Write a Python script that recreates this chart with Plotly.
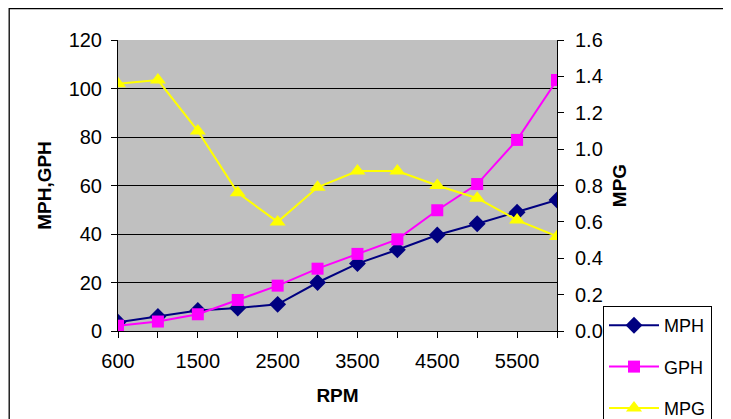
import plotly.graph_objects as go

rpm = ["600", "1000", "1500", "2000", "2500", "3000", "3500", "4000", "4500", "5000", "5500", "6000"]
tick_labels = ["600", "", "1500", "", "2500", "", "3500", "", "4500", "", "5500", ""]
mph = [3.6, 6.0, 8.5, 9.5, 11.0, 20.0, 27.8, 33.5, 39.6, 44.2, 49.0, 54.0]
gph = [2.2, 3.9, 6.9, 12.8, 18.7, 25.7, 31.8, 37.8, 49.8, 60.6, 78.8, 103.5]
mpg = [1.36, 1.38, 1.10, 0.76, 0.60, 0.79, 0.88, 0.88, 0.80, 0.73, 0.61, 0.52]

FONT = "Liberation Sans, Arial, sans-serif"

W, H = 731, 419
L, R, T, B = 110, 182, 32, 96
PW, PH = W - L - R, H - T - B


def px_x(x):
    return (x - L) / PW


def px_y(y):
    return (H - B - y) / PH


fig = go.Figure()
fig.add_trace(go.Scatter(x=rpm, y=mph, name="MPH", mode="lines+markers",
                         line=dict(color="#000080", width=2),
                         marker=dict(symbol="diamond", size=13, color="#000080"),
                         legendgroup="a"))
fig.add_trace(go.Scatter(x=rpm, y=gph, name="GPH", mode="lines+markers",
                         line=dict(color="#FF00FF", width=2),
                         marker=dict(symbol="square", size=12, color="#FF00FF"),
                         legendgroup="b"))
fig.add_trace(go.Scatter(x=rpm, y=mpg, name="MPG", mode="lines+markers", yaxis="y2",
                         line=dict(color="#FFFF00", width=2),
                         marker=dict(symbol="triangle-up", size=14, color="#FFFF00"),
                         legendgroup="c"))

fig.update_layout(
    width=W, height=H,
    margin=dict(l=L, r=R, t=T, b=B, autoexpand=False),
    paper_bgcolor="white",
    plot_bgcolor="#C0C0C0",
    font=dict(family=FONT, size=20, color="black"),
    xaxis=dict(
        type="category", range=[0, 11],
        tickmode="array", tickvals=rpm, ticktext=tick_labels,
        ticks="outside", ticklen=6, tickcolor="black", tickwidth=1,
        ticklabelstandoff=6,
        showline=True, linecolor="black", linewidth=1,
        showgrid=False, zeroline=False,
        title=dict(text="<b>RPM</b>", font=dict(size=19), standoff=17),
    ),
    yaxis=dict(
        range=[0, 120], dtick=20, tick0=0,
        ticks="outside", ticklen=6, tickcolor="black",
        ticklabelstandoff=5,
        showline=True, linecolor="black", linewidth=1,
        showgrid=True, gridcolor="black", gridwidth=1,
        zeroline=False,
        title=dict(text="<b>MPH,GPH</b>", font=dict(size=19), standoff=11),
    ),
    yaxis2=dict(
        overlaying="y", side="right",
        range=[0, 1.6], dtick=0.2, tick0=0, tickformat=".1f",
        ticks="outside", ticklen=6, tickcolor="black",
        ticklabelstandoff=7,
        showline=True, linecolor="black", linewidth=1,
        showgrid=False, zeroline=False,
        title=dict(text="<b>MPG</b>", font=dict(size=19), standoff=10),
    ),
    legend=dict(
        x=px_x(595), xanchor="left",
        y=px_y(298), yanchor="top",
        bgcolor="white", bordercolor="black", borderwidth=1,
        font=dict(size=18), tracegroupgap=15, itemwidth=50,
        traceorder="grouped",
    ),
    shapes=[
        dict(type="line", xref="paper", yref="paper",
             x0=px_x(1), x1=px_x(W + 20), y0=px_y(0.7), y1=px_y(0.7),
             line=dict(color="black", width=1.3)),
        dict(type="line", xref="paper", yref="paper",
             x0=px_x(1.2), x1=px_x(1.2), y0=px_y(0), y1=px_y(H + 20),
             line=dict(color="black", width=1.3)),
    ],
)

fig.write_html("out.html")
